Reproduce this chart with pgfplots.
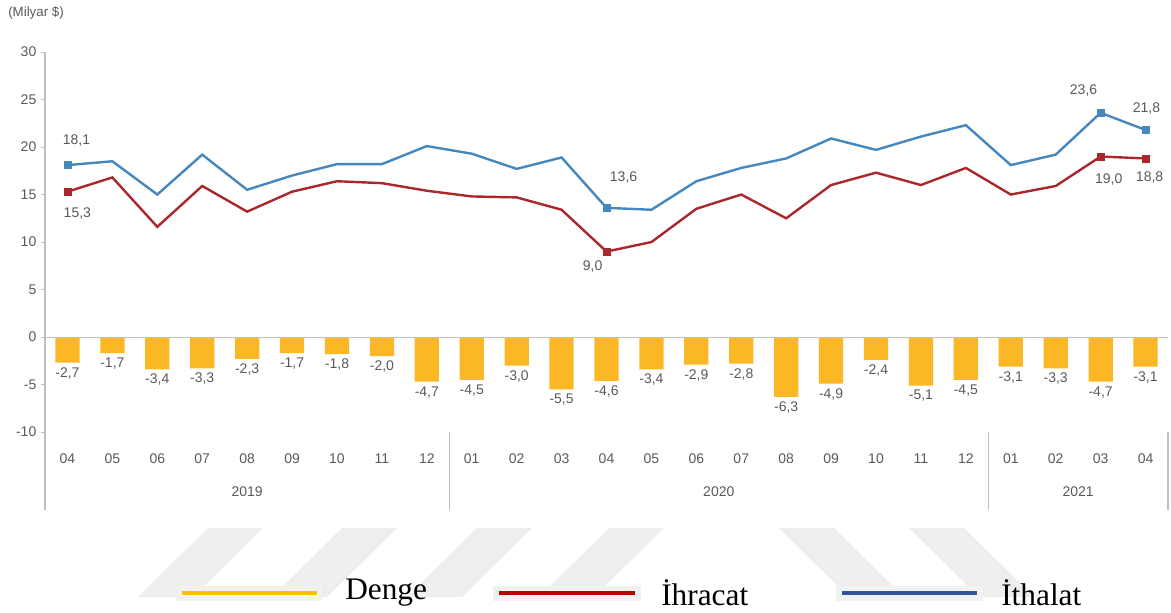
\documentclass[border=0pt]{standalone}
\usepackage{pgfplots}
\pgfplotsset{compat=1.18}
\usepackage{fontspec}
\setmainfont{Liberation Sans}
\newfontfamily\legendfont{Liberation Serif}
\definecolor{bargold}{RGB}{251,183,36}
\definecolor{linered}{RGB}{170,40,45}
\definecolor{lineblue}{RGB}{70,136,189}
\definecolor{txtgray}{RGB}{89,89,89}
\definecolor{axgray}{RGB}{191,191,191}
\definecolor{wmgray}{RGB}{238,238,238}
\definecolor{legbox}{RGB}{242,242,242}
\definecolor{legyellow}{RGB}{255,192,0}
\definecolor{legred}{RGB}{192,0,0}
\definecolor{legblue}{RGB}{47,85,151}

\pgfplotstableread{
x denge ihracat ithalat
0  -2.7 15.3 18.1
1  -1.7 16.8 18.5
2  -3.4 11.6 15.0
3  -3.3 15.9 19.2
4  -2.3 13.2 15.5
5  -1.7 15.3 17.0
6  -1.8 16.4 18.2
7  -2.0 16.2 18.2
8  -4.7 15.4 20.1
9  -4.5 14.8 19.3
10 -3.0 14.7 17.7
11 -5.5 13.4 18.9
12 -4.6 9.0  13.6
13 -3.4 10.0 13.4
14 -2.9 13.5 16.4
15 -2.8 15.0 17.8
16 -6.3 12.5 18.8
17 -4.9 16.0 20.9
18 -2.4 17.3 19.7
19 -5.1 16.0 21.1
20 -4.5 17.8 22.3
21 -3.1 15.0 18.1
22 -3.3 15.9 19.2
23 -4.7 19.0 23.6
24 -3.1 18.8 21.8
}\datatable

\pgfplotstableread{
x ihracat ithalat
0  15.3 18.1
12 9.0  13.6
23 19.0 23.6
24 18.8 21.8
}\marktable

\begin{document}
\begin{tikzpicture}
\useasboundingbox (0,0) rectangle (878.25pt,-459pt);
% watermark stripes
\begin{scope}[x=0.75pt,y=-0.75pt]
\fill[wmgray] (208,528) -- (263,528) -- (193,597) -- (138,597) -- cycle;
\fill[wmgray] (342,528) -- (397,528) -- (327,597) -- (272,597) -- cycle;
\fill[wmgray] (477,528) -- (532,528) -- (462,597) -- (407,597) -- cycle;
\fill[wmgray] (609,528) -- (664,528) -- (594,597) -- (539,597) -- cycle;
\fill[wmgray] (779,528) -- (834,528) -- (904,597) -- (849,597) -- cycle;
\fill[wmgray] (909,528) -- (964,528) -- (1034,597) -- (979,597) -- cycle;
\end{scope}

\begin{axis}[
  at={(33.75pt,-382.5pt)}, anchor=south west,
  width=842.25pt, height=343.5pt, scale only axis,
  xmin=-0.5, xmax=24.5, ymin=-18.2, ymax=30,
  clip=false,
  axis line style={draw=none},
  ytick={-10,-5,0,5,10,15,20,25,30},
  ytick pos=left, tick align=outside,
  major tick length=3pt,
  ytick style={axgray, line width=0.6pt},
  xtick={0,...,24},
  xticklabels={04,05,06,07,08,09,10,11,12,01,02,03,04,05,06,07,08,09,10,11,12,01,02,03,04},
  xtick style={draw=none},
  xticklabel style={anchor=center, yshift=41.25pt, font=\fontsize{10.5}{12}\selectfont, text=txtgray},
  yticklabel style={font=\fontsize{10.5}{12}\selectfont, text=txtgray},
  /pgf/number format/assume math mode=true,
]
% y axis line
\draw[axgray, line width=0.8pt] (axis cs:-0.5,30) -- (axis cs:-0.5,-18.2);
% separators
\draw[axgray, line width=0.8pt] (axis cs:8.5,-10) -- (axis cs:8.5,-18.2);
\draw[axgray, line width=0.8pt] (axis cs:20.5,-10) -- (axis cs:20.5,-18.2);
\draw[axgray, line width=0.8pt] (axis cs:24.5,-10) -- (axis cs:24.5,-18.2);

\addplot[ybar, bar width=0.54, fill=bargold, draw=none,
  nodes near coords,
  every node near coord/.append style={font=\fontsize{10.5}{12}\selectfont, text=txtgray,
     /pgf/number format/.cd, fixed, fixed zerofill, precision=1, use comma, assume math mode=true},
] table[x=x, y=denge] {\datatable};

\draw[axgray, line width=0.8pt] (axis cs:-0.5,0) -- (axis cs:24.5,0);

\addplot[linered, line width=1.8pt, mark=none] table[x=x, y=ihracat] {\datatable};
\addplot[lineblue, line width=1.8pt, mark=none] table[x=x, y=ithalat] {\datatable};
\addplot[only marks, mark=square*, mark size=2.6pt, color=linered] table[x=x, y=ihracat] {\marktable};
\addplot[only marks, mark=square*, mark size=2.6pt, color=lineblue] table[x=x, y=ithalat] {\marktable};

\begin{scope}[every node/.style={font=\fontsize{10.5}{12}\selectfont, text=txtgray}]
\node at (axis cs:0.2,20.7) {18,1};
\node at (axis cs:0.22,13.05) {15,3};
\node at (axis cs:12.38,16.8) {13,6};
\node at (axis cs:11.69,7.4) {9,0};
\node at (axis cs:22.62,26.0) {23,6};
\node at (axis cs:24.02,24.1) {21,8};
\node at (axis cs:23.18,16.6) {19,0};
\node at (axis cs:24.09,16.8) {18,8};
\node at (axis cs:4,-16.3) {2019};
\node at (axis cs:14.5,-16.3) {2020};
\node at (axis cs:22.5,-16.3) {2021};
\end{scope}
\end{axis}

% unit label
\node[anchor=west, font=\fontsize{10}{12}\selectfont, text=txtgray, inner sep=0pt] at (6pt,-9.5pt) {(Milyar \$)};

% legend
\begin{scope}[x=0.75pt,y=-0.75pt]
\fill[legbox] (176,586) rectangle (322,601);
\fill[legbox] (493,586) rectangle (641,601);
\fill[legbox] (836,586) rectangle (983,601);
\draw[legyellow, line width=3.6pt] (182,593) -- (317,593);
\draw[legred, line width=3.6pt] (499,593) -- (635,593);
\draw[legblue, line width=3.6pt] (842,593) -- (977,593);
\node[anchor=west, inner sep=0pt, font=\legendfont\fontsize{23.5}{27}\selectfont] at (345,593) {Denge};
\node[anchor=west, inner sep=0pt, font=\legendfont\fontsize{23.5}{27}\selectfont] at (661,593) {İhracat};
\node[anchor=west, inner sep=0pt, font=\legendfont\fontsize{23.5}{27}\selectfont] at (1001,593) {İthalat};
\end{scope}
\end{tikzpicture}
\end{document}
